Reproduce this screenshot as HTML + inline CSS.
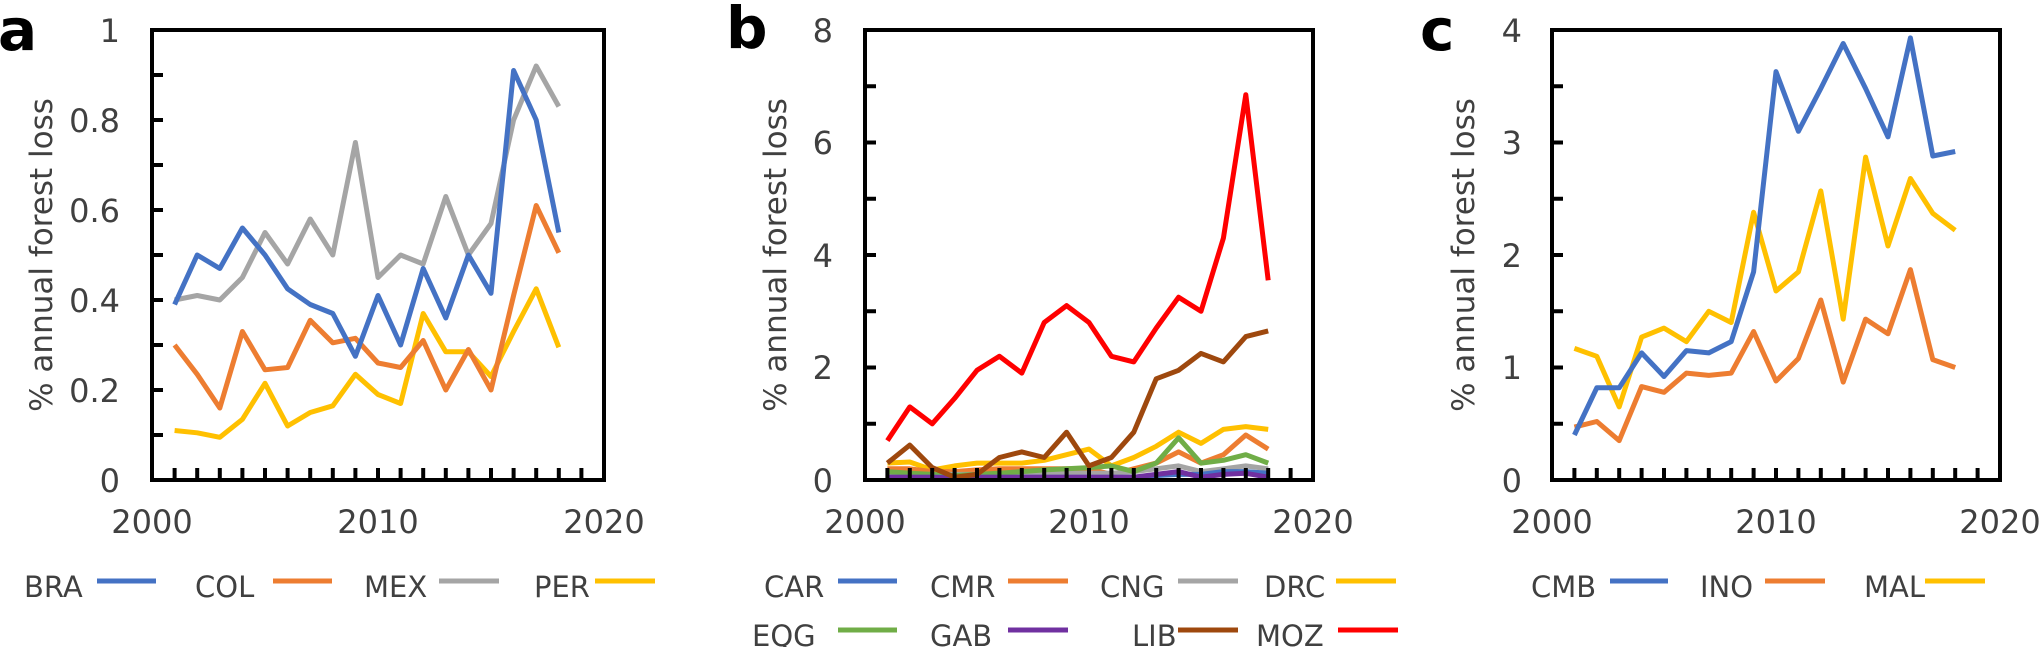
<!DOCTYPE html>
<html><head><meta charset="utf-8"><style>
html,body{margin:0;padding:0;background:#fff;}
svg{display:block;}
text{font-family:"DejaVu Sans","Liberation Sans",sans-serif;fill:#404040;}
</style></head><body>
<svg id="s" width="2040" height="647" viewBox="0 0 2040 647" xmlns="http://www.w3.org/2000/svg">
<g font-size="58" font-weight="bold">
<text x="-2" y="50" style="fill:#000">a</text>
<text x="726" y="48" style="fill:#000">b</text>
<text x="1420" y="50" style="fill:#000">c</text>
</g>
<g font-size="31">
<text transform="translate(52,255) rotate(-90)" text-anchor="middle">% annual forest loss</text>
<text transform="translate(786,255) rotate(-90)" text-anchor="middle">% annual forest loss</text>
<text transform="translate(1474,255) rotate(-90)" text-anchor="middle">% annual forest loss</text>
</g>
<g font-size="32" text-anchor="end">
<text x="120" y="492">0</text><text x="120" y="402">0.2</text><text x="120" y="312">0.4</text><text x="120" y="222">0.6</text><text x="120" y="132">0.8</text><text x="120" y="42">1</text>
<text x="833" y="492">0</text><text x="833" y="379">2</text><text x="833" y="267">4</text><text x="833" y="154">6</text><text x="833" y="42">8</text>
<text x="1522" y="492">0</text><text x="1522" y="379">1</text><text x="1522" y="267">2</text><text x="1522" y="154">3</text><text x="1522" y="42">4</text>
</g>
<g font-size="32" text-anchor="middle">
<text x="152" y="533">2000</text><text x="378" y="533">2010</text><text x="604" y="533">2020</text>
<text x="865" y="533">2000</text><text x="1089" y="533">2010</text><text x="1313" y="533">2020</text>
<text x="1552" y="533">2000</text><text x="1776" y="533">2010</text><text x="2000" y="533">2020</text>
</g>
<g font-size="29">
<text x="24" y="597">BRA</text><text x="195" y="597">COL</text><text x="364" y="597">MEX</text><text x="534" y="597">PER</text>
<text x="764" y="597">CAR</text><text x="930" y="597">CMR</text><text x="1100" y="597">CNG</text><text x="1264" y="597">DRC</text>
<text x="752" y="646">EQG</text><text x="930" y="646">GAB</text><text x="1132" y="646">LIB</text><text x="1256" y="646">MOZ</text>
<text x="1531" y="597">CMB</text><text x="1700" y="597">INO</text><text x="1864" y="597">MAL</text>
</g>
<g stroke-width="5" fill="none">
<line x1="97" y1="581" x2="156" y2="581" stroke="#4472C4"/>
<line x1="273" y1="581" x2="332" y2="581" stroke="#ED7D31"/>
<line x1="439" y1="581" x2="499" y2="581" stroke="#A5A5A5"/>
<line x1="595" y1="581" x2="655" y2="581" stroke="#FFC000"/>
<line x1="838" y1="581" x2="897" y2="581" stroke="#4472C4"/>
<line x1="1008" y1="581" x2="1068" y2="581" stroke="#ED7D31"/>
<line x1="1178" y1="581" x2="1238" y2="581" stroke="#A5A5A5"/>
<line x1="1336" y1="581" x2="1396" y2="581" stroke="#FFC000"/>
<line x1="838" y1="630" x2="897" y2="630" stroke="#70AD47"/>
<line x1="1008" y1="630" x2="1068" y2="630" stroke="#7030A0"/>
<line x1="1178" y1="630" x2="1238" y2="630" stroke="#9E480E"/>
<line x1="1338" y1="630" x2="1398" y2="630" stroke="#FF0000"/>
<line x1="1610" y1="581" x2="1668" y2="581" stroke="#4472C4"/>
<line x1="1765" y1="581" x2="1825" y2="581" stroke="#ED7D31"/>
<line x1="1925" y1="581" x2="1985" y2="581" stroke="#FFC000"/>
</g>
<g id="plots"></g>
</svg>
<script>
var NS="http://www.w3.org/2000/svg",P=document.getElementById("plots");
function el(t,a){var e=document.createElementNS(NS,t);for(var k in a)e.setAttribute(k,a[k]);P.appendChild(e);return e;}
function panel(L,R,T,B,ymax,ticksY,series){
  var sx=function(y){return L+(y-2000)*(R-L)/20},sy=function(v){return B-v*(B-T)/ymax};
  series.forEach(function(s){
    var pts=s[1].map(function(v,i){return sx(2001+i).toFixed(1)+","+sy(v).toFixed(1)}).join(" ");
    el("polyline",{points:pts,fill:"none",stroke:s[0],"stroke-width":5,"stroke-linejoin":"round"});
  });
  for(var i=1;i<ticksY;i++){var y=T+(B-T)*i/ticksY;el("line",{x1:L,y1:y,x2:L+11,y2:y,stroke:"#000","stroke-width":4});}
  for(var yr=2001;yr<2020;yr++){var x=sx(yr);el("line",{x1:x,y1:B,x2:x,y2:B-12,stroke:"#000","stroke-width":4});}
  el("rect",{x:L,y:T,width:R-L,height:B-T,fill:"none",stroke:"#000","stroke-width":4});
}
panel(152,604,30,480,1,10,[
["#A5A5A5",[0.40,0.41,0.40,0.45,0.55,0.48,0.58,0.50,0.75,0.45,0.50,0.48,0.63,0.50,0.57,0.80,0.92,0.83]],
["#FFC000",[0.11,0.105,0.095,0.135,0.215,0.12,0.15,0.165,0.235,0.19,0.17,0.37,0.285,0.285,0.23,0.33,0.425,0.295]],
["#ED7D31",[0.30,0.235,0.16,0.33,0.245,0.25,0.355,0.305,0.315,0.26,0.25,0.31,0.20,0.29,0.20,0.41,0.61,0.505]],
["#4472C4",[0.39,0.50,0.47,0.56,0.50,0.425,0.39,0.37,0.275,0.41,0.30,0.47,0.36,0.50,0.415,0.91,0.80,0.55]]
]);
panel(865,1313,30,480,8,8,[
["#FFC000",[0.3,0.32,0.18,0.25,0.3,0.3,0.3,0.35,0.45,0.55,0.25,0.4,0.6,0.85,0.65,0.9,0.95,0.9]],
["#ED7D31",[0.2,0.2,0.15,0.15,0.18,0.2,0.2,0.2,0.2,0.2,0.1,0.2,0.3,0.5,0.3,0.45,0.8,0.55]],
["#A5A5A5",[0.1,0.1,0.1,0.1,0.1,0.1,0.1,0.12,0.12,0.12,0.12,0.15,0.2,0.25,0.15,0.2,0.25,0.2]],
["#70AD47",[0.15,0.12,0.1,0.08,0.1,0.12,0.15,0.18,0.2,0.22,0.25,0.15,0.3,0.75,0.3,0.35,0.45,0.3]],
["#4472C4",[0.05,0.05,0.05,0.05,0.05,0.05,0.05,0.05,0.05,0.05,0.05,0.05,0.08,0.1,0.1,0.15,0.15,0.12]],
["#7030A0",[0.05,0.05,0.05,0.03,0.05,0.05,0.05,0.05,0.05,0.05,0.05,0.05,0.1,0.15,0.05,0.1,0.12,0.05]],
["#9E480E",[0.3,0.62,0.22,0.05,0.1,0.4,0.5,0.4,0.85,0.25,0.4,0.85,1.8,1.95,2.25,2.1,2.55,2.65]],
["#FF0000",[0.7,1.3,1.0,1.45,1.95,2.2,1.9,2.8,3.1,2.8,2.2,2.1,2.7,3.25,3.0,4.3,6.85,3.55]]
]);
panel(1552,2000,30,480,4,8,[
["#ED7D31",[0.47,0.52,0.35,0.83,0.78,0.95,0.93,0.95,1.32,0.88,1.08,1.6,0.87,1.43,1.3,1.87,1.07,1.0]],
["#FFC000",[1.17,1.1,0.65,1.27,1.35,1.23,1.5,1.4,2.38,1.68,1.85,2.57,1.43,2.87,2.08,2.68,2.37,2.22]],
["#4472C4",[0.4,0.82,0.82,1.13,0.92,1.15,1.13,1.23,1.85,3.63,3.1,3.48,3.88,3.48,3.05,3.93,2.88,2.92]]
]);
</script>
</body></html>
